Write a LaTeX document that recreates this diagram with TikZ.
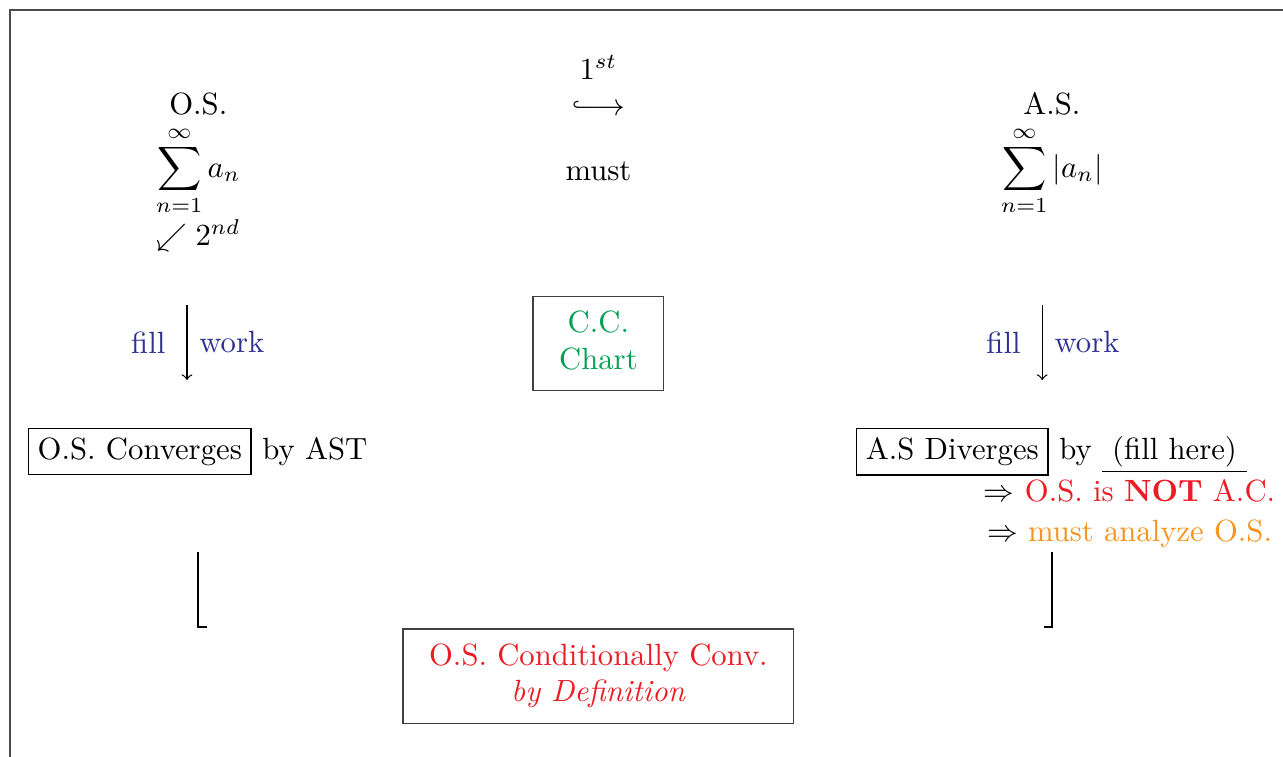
\documentclass[tikz,border=0pt]{standalone}
\usepackage{amsmath}
\usepackage{xcolor}
\usepackage{tikz}
\usetikzlibrary{arrows, positioning}
\definecolor{osred}{RGB}{237,28,36}
\definecolor{osorange}{RGB}{247,148,29}
\definecolor{ccgreen}{RGB}{0,160,82}
\definecolor{fillblue}{RGB}{46,49,146}

\begin{document}
\begin{tikzpicture}[auto, node distance=2cm, >=to]
% We define the styles for the boxes and the arrows
 \tikzset{
box/.style = {draw, rectangle, inner sep=3pt},
chart/.style = {draw=black!75, rectangle, inner xsep=2.5pt},
line/.style = {draw, ->},
bracket/.style = {draw, line width=0.6pt},
hint/.style = {text=fillblue},
}
 \path [use as bounding box, clip] (0,0) rectangle (14.686,-8.654);
 \draw [black!70] (0.114,-9) |- (15,-0.114);

 % Original series
 \node (ossum) at (2.27,-1.96) {$\displaystyle\sum_{n=1}^{\infty} a_n$};
 \node [above of=ossum, node distance=0.77cm] (oslabel) {O.S.};
 \node [below of=ossum, node distance=0.74cm] (ossecond) {$\swarrow 2^{nd}$};

 % First step in the middle
 \node [right of=ossum, node distance=4.58cm] (must) {must};
 \node [above of=must, node distance=0.72cm] (hook) {$\lhook\joinrel\longrightarrow$};
 \node [above of=hook, node distance=0.47cm] (first) {$1^{st}$};

 % Absolute series
 \node [right of=must, node distance=5.19cm] (assum) {$\displaystyle\sum_{n=1}^{\infty} |a_n|$};
 \node [above of=assum, node distance=0.77cm] (aslabel) {A.S.};

 % Chart block
 \node [chart, below of=must, node distance=1.97cm, text=ccgreen] (cc) {\begin{tabular}{c}C.C.\\ Chart\end{tabular}};

 % Fill work arrows
 \coordinate [below of=ossum, node distance=1.53cm, xshift=-0.13cm] (osfilltop);
 \coordinate [below of=osfilltop, node distance=0.86cm] (osfillbot);
 \coordinate [below of=assum, node distance=1.53cm, xshift=-0.11cm] (asfilltop);
 \coordinate [below of=asfilltop, node distance=0.86cm] (asfillbot);
 \draw [line] (osfilltop) -- (osfillbot) node[midway, left=3.5pt, hint] {fill} node[midway, right=0.5pt, hint] {work};
 \draw [line] (asfilltop) -- (asfillbot) node[midway, left=3.5pt, hint] {fill} node[midway, right=0.5pt, hint] {work};

 % Results of the tests
 \node [box] (osconv) at (1.60,-5.17) {O.S. Converges};
 \node [base right=0pt of osconv] (osby) {by AST};
 \node [box, right of=osconv, node distance=9.30cm] (asdiv) {A.S Diverges};
 \node [base right=0pt of asdiv] (asby) {by \underline{\ (fill here)\ }};
 \node [below of=asdiv, node distance=0.45cm, xshift=2.03cm] (asnot) {$\Rightarrow$ \textcolor{osred}{O.S. is \textbf{NOT} A.C.}};
 \node [below of=asnot, node distance=0.49cm] (asmust) {$\Rightarrow$ \textcolor{osorange}{must analyze O.S.}};

 % Brackets down to the conclusion
 \coordinate [below of=ossum, node distance=4.36cm] (osdowntop);
 \coordinate [below of=osdowntop, node distance=0.86cm, xshift=0.1cm] (osdownend);
 \coordinate [below of=assum, node distance=4.36cm] (asdowntop);
 \coordinate [below of=asdowntop, node distance=0.86cm, xshift=-0.09cm] (asdownend);
 \draw [bracket] (osdowntop) |- (osdownend);
 \draw [bracket] (asdowntop) |- (asdownend);

 % Conclusion block
 \node [chart, below of=cc, node distance=3.81cm, text=osred] (condconv) {\begin{tabular}{c}O.S. Conditionally Conv.\\ \textit{by Definition}\end{tabular}};

\end{tikzpicture}
\end{document}
